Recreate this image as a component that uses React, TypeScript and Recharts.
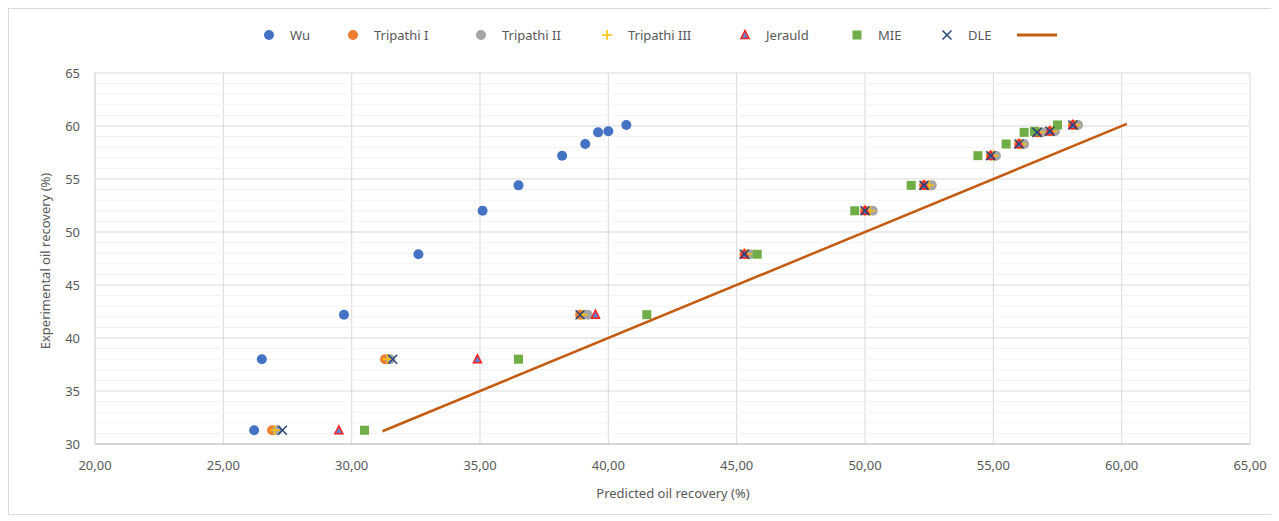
import React from 'react';
import {
  ScatterChart,
  Scatter,
  XAxis,
  YAxis,
  CartesianGrid,
  ReferenceLine,
} from 'recharts';

// experimental recovery (%), one row per test
const experimental = [31.3, 38.0, 42.2, 47.9, 52.0, 54.4, 57.2, 58.3, 59.4, 59.5, 60.1];

// predicted recovery (%) for each model, same row order
const wu = [26.2, 26.5, 29.7, 32.6, 35.1, 36.5, 38.2, 39.1, 39.6, 40.0, 40.7];
const tripathiI = [26.9, 31.3, 38.9, 45.3, 50.0, 52.3, 54.9, 56.0, 56.7, 57.2, 58.1];
const tripathiII = [27.1, 31.5, 39.2, 45.5, 50.3, 52.6, 55.1, 56.2, 56.9, 57.4, 58.3];
const tripathiIII = [27.0, 31.4, 39.0, 45.4, 50.2, 52.5, 55.0, 56.1, 56.8, 57.3, 58.2];
const jerauld = [29.5, 34.9, 39.5, 45.3, 50.0, 52.3, 54.9, 56.0, 56.7, 57.2, 58.1];
const mie = [30.5, 36.5, 41.5, 45.8, 49.6, 51.8, 54.4, 55.5, 56.2, 56.6, 57.5];
const dle = [27.3, 31.6, 38.9, 45.3, 50.0, 52.3, 54.9, 56.0, 56.7, 57.2, 58.1];

// y = x reference line ends
const unityX = [31.2, 60.2];

const xTicks = [20, 25, 30, 35, 40, 45, 50, 55, 60, 65];
const yTicks = [30, 35, 40, 45, 50, 55, 60, 65];
const minorY = [31, 32, 33, 34, 36, 37, 38, 39, 41, 42, 43, 44, 46, 47, 48, 49, 51, 52, 53, 54, 56, 57, 58, 59, 61, 62, 63, 64];

const toPoints = (xs: number[]) => xs.map((x, i) => ({ x, y: experimental[i] }));
const unity = unityX.map((v) => ({ x: v, y: v }));

const FONT = '"Noto Sans", sans-serif';
const GREY = '#595959';

type ShapeProps = { cx?: number; cy?: number };

const dot = (color: string) => (p: ShapeProps) => (
  <circle cx={p.cx} cy={p.cy} r={5} fill={color} />
);
const plus = (p: ShapeProps) => (
  <g stroke="#FFC000" strokeWidth={1.5}>
    <line x1={p.cx! - 5} y1={p.cy} x2={p.cx! + 5} y2={p.cy} />
    <line x1={p.cx} y1={p.cy! - 5} x2={p.cx} y2={p.cy! + 5} />
  </g>
);
const triangle = (p: ShapeProps) => (
  <polygon
    points={`${p.cx},${p.cy! - 4.5} ${p.cx! - 4},${p.cy! + 3.5} ${p.cx! + 4},${p.cy! + 3.5}`}
    fill="#5B85CF"
    stroke="#FF2020"
    strokeWidth={1.5}
  />
);
const square = (p: ShapeProps) => (
  <rect x={p.cx! - 4.5} y={p.cy! - 4.5} width={9} height={9} fill="#70AD47" />
);
const cross = (p: ShapeProps) => (
  <g stroke="#264478" strokeWidth={1.5}>
    <line x1={p.cx! - 4.5} y1={p.cy! - 4.5} x2={p.cx! + 4.5} y2={p.cy! + 4.5} />
    <line x1={p.cx! - 4.5} y1={p.cy! + 4.5} x2={p.cx! + 4.5} y2={p.cy! - 4.5} />
  </g>
);
const noShape = () => <g />;

const series = [
  { name: 'Wu', data: wu, shape: dot('#4472C4') },
  { name: 'Tripathi I', data: tripathiI, shape: dot('#ED7D31') },
  { name: 'Tripathi II', data: tripathiII, shape: dot('#A5A5A5') },
  { name: 'Tripathi III', data: tripathiIII, shape: plus },
  { name: 'Jerauld', data: jerauld, shape: triangle },
  { name: 'MIE', data: mie, shape: square },
  { name: 'DLE', data: dle, shape: cross },
];

// legend icon centres (px inside the chart box)
const legendX = [260, 344, 472, 598, 736, 848, 938];

const fmt = (v: number) => v.toFixed(2).replace('.', ',');

const App = () => {
  return (
    <div
      style={{
        position: 'relative',
        width: 1263,
        height: 505,
        border: '1px solid #d9d9d9',
        fontFamily: FONT,
        background: '#fff',
      }}
    >
      {series.map((s, i) => (
        <div
          key={s.name}
          style={{ position: 'absolute', left: legendX[i] - 6, top: 19, height: 14, display: 'flex', alignItems: 'center' }}
        >
          <svg width={12} height={12} style={{ overflow: 'visible' }}>
            {s.shape({ cx: 6, cy: 6 })}
          </svg>
          <span style={{ marginLeft: 15, fontSize: 13, color: GREY, whiteSpace: 'nowrap' }}>{s.name}</span>
        </div>
      ))}
      <svg width={40} height={6} style={{ position: 'absolute', left: 1008, top: 23 }}>
        <line x1={0} y1={3} x2={40} y2={3} stroke="#C55A11" strokeWidth={3} />
      </svg>

      <ScatterChart width={1263} height={505} margin={{ top: 64, right: 22, bottom: 40, left: 26 }}>
        <CartesianGrid stroke="#d9d9d9" />
        {minorY.map((v) => (
          <ReferenceLine key={v} y={v} stroke="#f2f2f2" strokeWidth={1} />
        ))}
        <XAxis
          type="number"
          dataKey="x"
          domain={[20, 65]}
          ticks={xTicks}
          tickFormatter={fmt}
          tickLine={false}
          tickSize={6}
          tickMargin={11}
          height={30}
          axisLine={{ stroke: '#bfbfbf' }}
          tick={{ fill: GREY, fontSize: 13, fontFamily: FONT }}
          label={() => (
            <text x={664} y={484} textAnchor="middle" dominantBaseline="central" fill={GREY} fontSize={13} fontFamily={FONT}>
              Predicted oil recovery (%)
            </text>
          )}
        />
        <YAxis
          type="number"
          dataKey="y"
          domain={[30, 65]}
          ticks={yTicks}
          tickLine={false}
          tickSize={6}
          tickMargin={9}
          width={60}
          axisLine={{ stroke: '#d9d9d9' }}
          tick={{ fill: GREY, fontSize: 13, fontFamily: FONT }}
          label={() => (
            <text
              x={36}
              y={252}
              transform="rotate(-90, 36, 252)"
              textAnchor="middle"
              dominantBaseline="central"
              fill={GREY}
              fontSize={13}
              fontFamily={FONT}
            >
              Experimental oil recovery (%)
            </text>
          )}
        />
        {series.map((s) => (
          <Scatter key={s.name} name={s.name} data={toPoints(s.data)} shape={s.shape} isAnimationActive={false} />
        ))}
        <Scatter
          name=""
          data={unity}
          line={{ stroke: '#C55A11', strokeWidth: 2.5 }}
          shape={noShape}
          isAnimationActive={false}
        />
      </ScatterChart>
    </div>
  );
};

export default App;
